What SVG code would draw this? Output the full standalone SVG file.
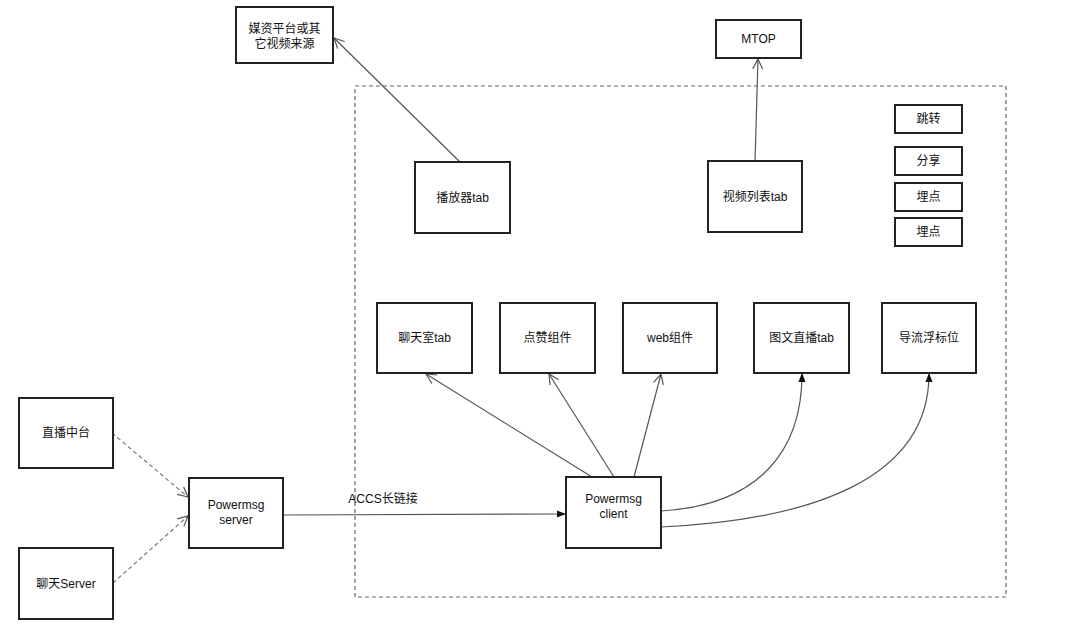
<svg xmlns="http://www.w3.org/2000/svg" width="1080" height="631" viewBox="0 0 1080 631">
<defs>
<style>
.box{fill:#fff;stroke:#222;stroke-width:2}
.t{font-family:"Liberation Sans","Noto Sans CJK SC",sans-serif;font-size:12px;fill:#111;text-anchor:middle}
.c{fill:none;stroke:#555;stroke-width:1.2}
.d{fill:none;stroke:#777;stroke-width:1.2;stroke-dasharray:4 3}
</style>
<marker id="open" viewBox="0 0 12 12" refX="11" refY="6" markerWidth="12" markerHeight="12" orient="auto" markerUnits="userSpaceOnUse">
<path d="M1,1 L11,6 L1,11" fill="none" stroke="#555" stroke-width="1.2"/>
</marker>
<marker id="fill" viewBox="0 0 10 10" refX="9" refY="5" markerWidth="9" markerHeight="9" orient="auto" markerUnits="userSpaceOnUse">
<path d="M0,1 L10,5 L0,9 Z" fill="#111"/>
</marker>
</defs>
<rect width="1080" height="631" fill="#fff"/>
<rect x="355" y="86" width="651" height="511" fill="none" stroke="#666" stroke-width="1.2" stroke-dasharray="4 3"/>
<g id="connectors">
<line class="c" x1="460" y1="162" x2="334" y2="38" marker-end="url(#open)"/>
<line class="c" x1="755" y1="161" x2="758" y2="59" marker-end="url(#open)"/>
<line class="d" x1="112" y1="433" x2="188" y2="497" marker-end="url(#open)"/>
<line class="d" x1="113" y1="583" x2="188" y2="516" marker-end="url(#open)"/>
<line class="c" x1="283" y1="515" x2="565" y2="514" stroke="#333" marker-end="url(#fill)"/>
<text class="t" x="383" y="503">ACCS长链接</text>
<line class="c" x1="592" y1="477" x2="426" y2="374" marker-end="url(#open)"/>
<line class="c" x1="614" y1="477" x2="549" y2="374" marker-end="url(#open)"/>
<line class="c" x1="634" y1="477" x2="661" y2="374" marker-end="url(#open)"/>
<path class="c" d="M661,511 C760,505 802,450 802,374" stroke="#333" marker-end="url(#fill)"/>
<path class="c" d="M661,527 C810,520 929,480 929,374" stroke="#333" marker-end="url(#fill)"/>
</g>
<g id="n-meizi"><rect class="box" x="236" y="7" width="97" height="56"/><text class="t" x="284.5" y="33">媒资平台或其</text><text class="t" x="284.5" y="48">它视频来源</text></g>
<g id="n-mtop"><rect class="box" x="716" y="20" width="85" height="38"/><text class="t" x="758.5" y="43">MTOP</text></g>
<g id="n-player"><rect class="box" x="415" y="162" width="95" height="71"/><text class="t" x="462.5" y="202">播放器tab</text></g>
<g id="n-videolist"><rect class="box" x="708" y="161" width="94" height="71"/><text class="t" x="755" y="201">视频列表tab</text></g>
<g id="n-jump"><rect class="box" x="895" y="105" width="67" height="28"/><text class="t" x="928.5" y="123">跳转</text></g>
<g id="n-share"><rect class="box" x="895" y="147" width="67" height="28"/><text class="t" x="928.5" y="165">分享</text></g>
<g id="n-track1"><rect class="box" x="895" y="183" width="67" height="28"/><text class="t" x="928.5" y="201">埋点</text></g>
<g id="n-track2"><rect class="box" x="895" y="218" width="67" height="28"/><text class="t" x="928.5" y="236">埋点</text></g>
<g id="n-chatroom"><rect class="box" x="377" y="303" width="95" height="70"/><text class="t" x="424.5" y="342">聊天室tab</text></g>
<g id="n-like"><rect class="box" x="500" y="303" width="95" height="70"/><text class="t" x="547.5" y="342">点赞组件</text></g>
<g id="n-web"><rect class="box" x="623" y="303" width="94" height="70"/><text class="t" x="670" y="342">web组件</text></g>
<g id="n-tuwen"><rect class="box" x="754" y="303" width="95" height="70"/><text class="t" x="801.5" y="342">图文直播tab</text></g>
<g id="n-float"><rect class="box" x="882" y="303" width="94" height="70"/><text class="t" x="929" y="342">导流浮标位</text></g>
<g id="n-zhibo"><rect class="box" x="19" y="398" width="94" height="70"/><text class="t" x="66" y="437">直播中台</text></g>
<g id="n-server"><rect class="box" x="189" y="478" width="94" height="70"/><text class="t" x="236" y="509">Powermsg</text><text class="t" x="236" y="524">server</text></g>
<g id="n-chatserver"><rect class="box" x="19" y="548" width="94" height="71"/><text class="t" x="66" y="588">聊天Server</text></g>
<g id="n-client"><rect class="box" x="566" y="477" width="95" height="71"/><text class="t" x="613.5" y="503">Powermsg</text><text class="t" x="613.5" y="518">client</text></g>
</svg>
